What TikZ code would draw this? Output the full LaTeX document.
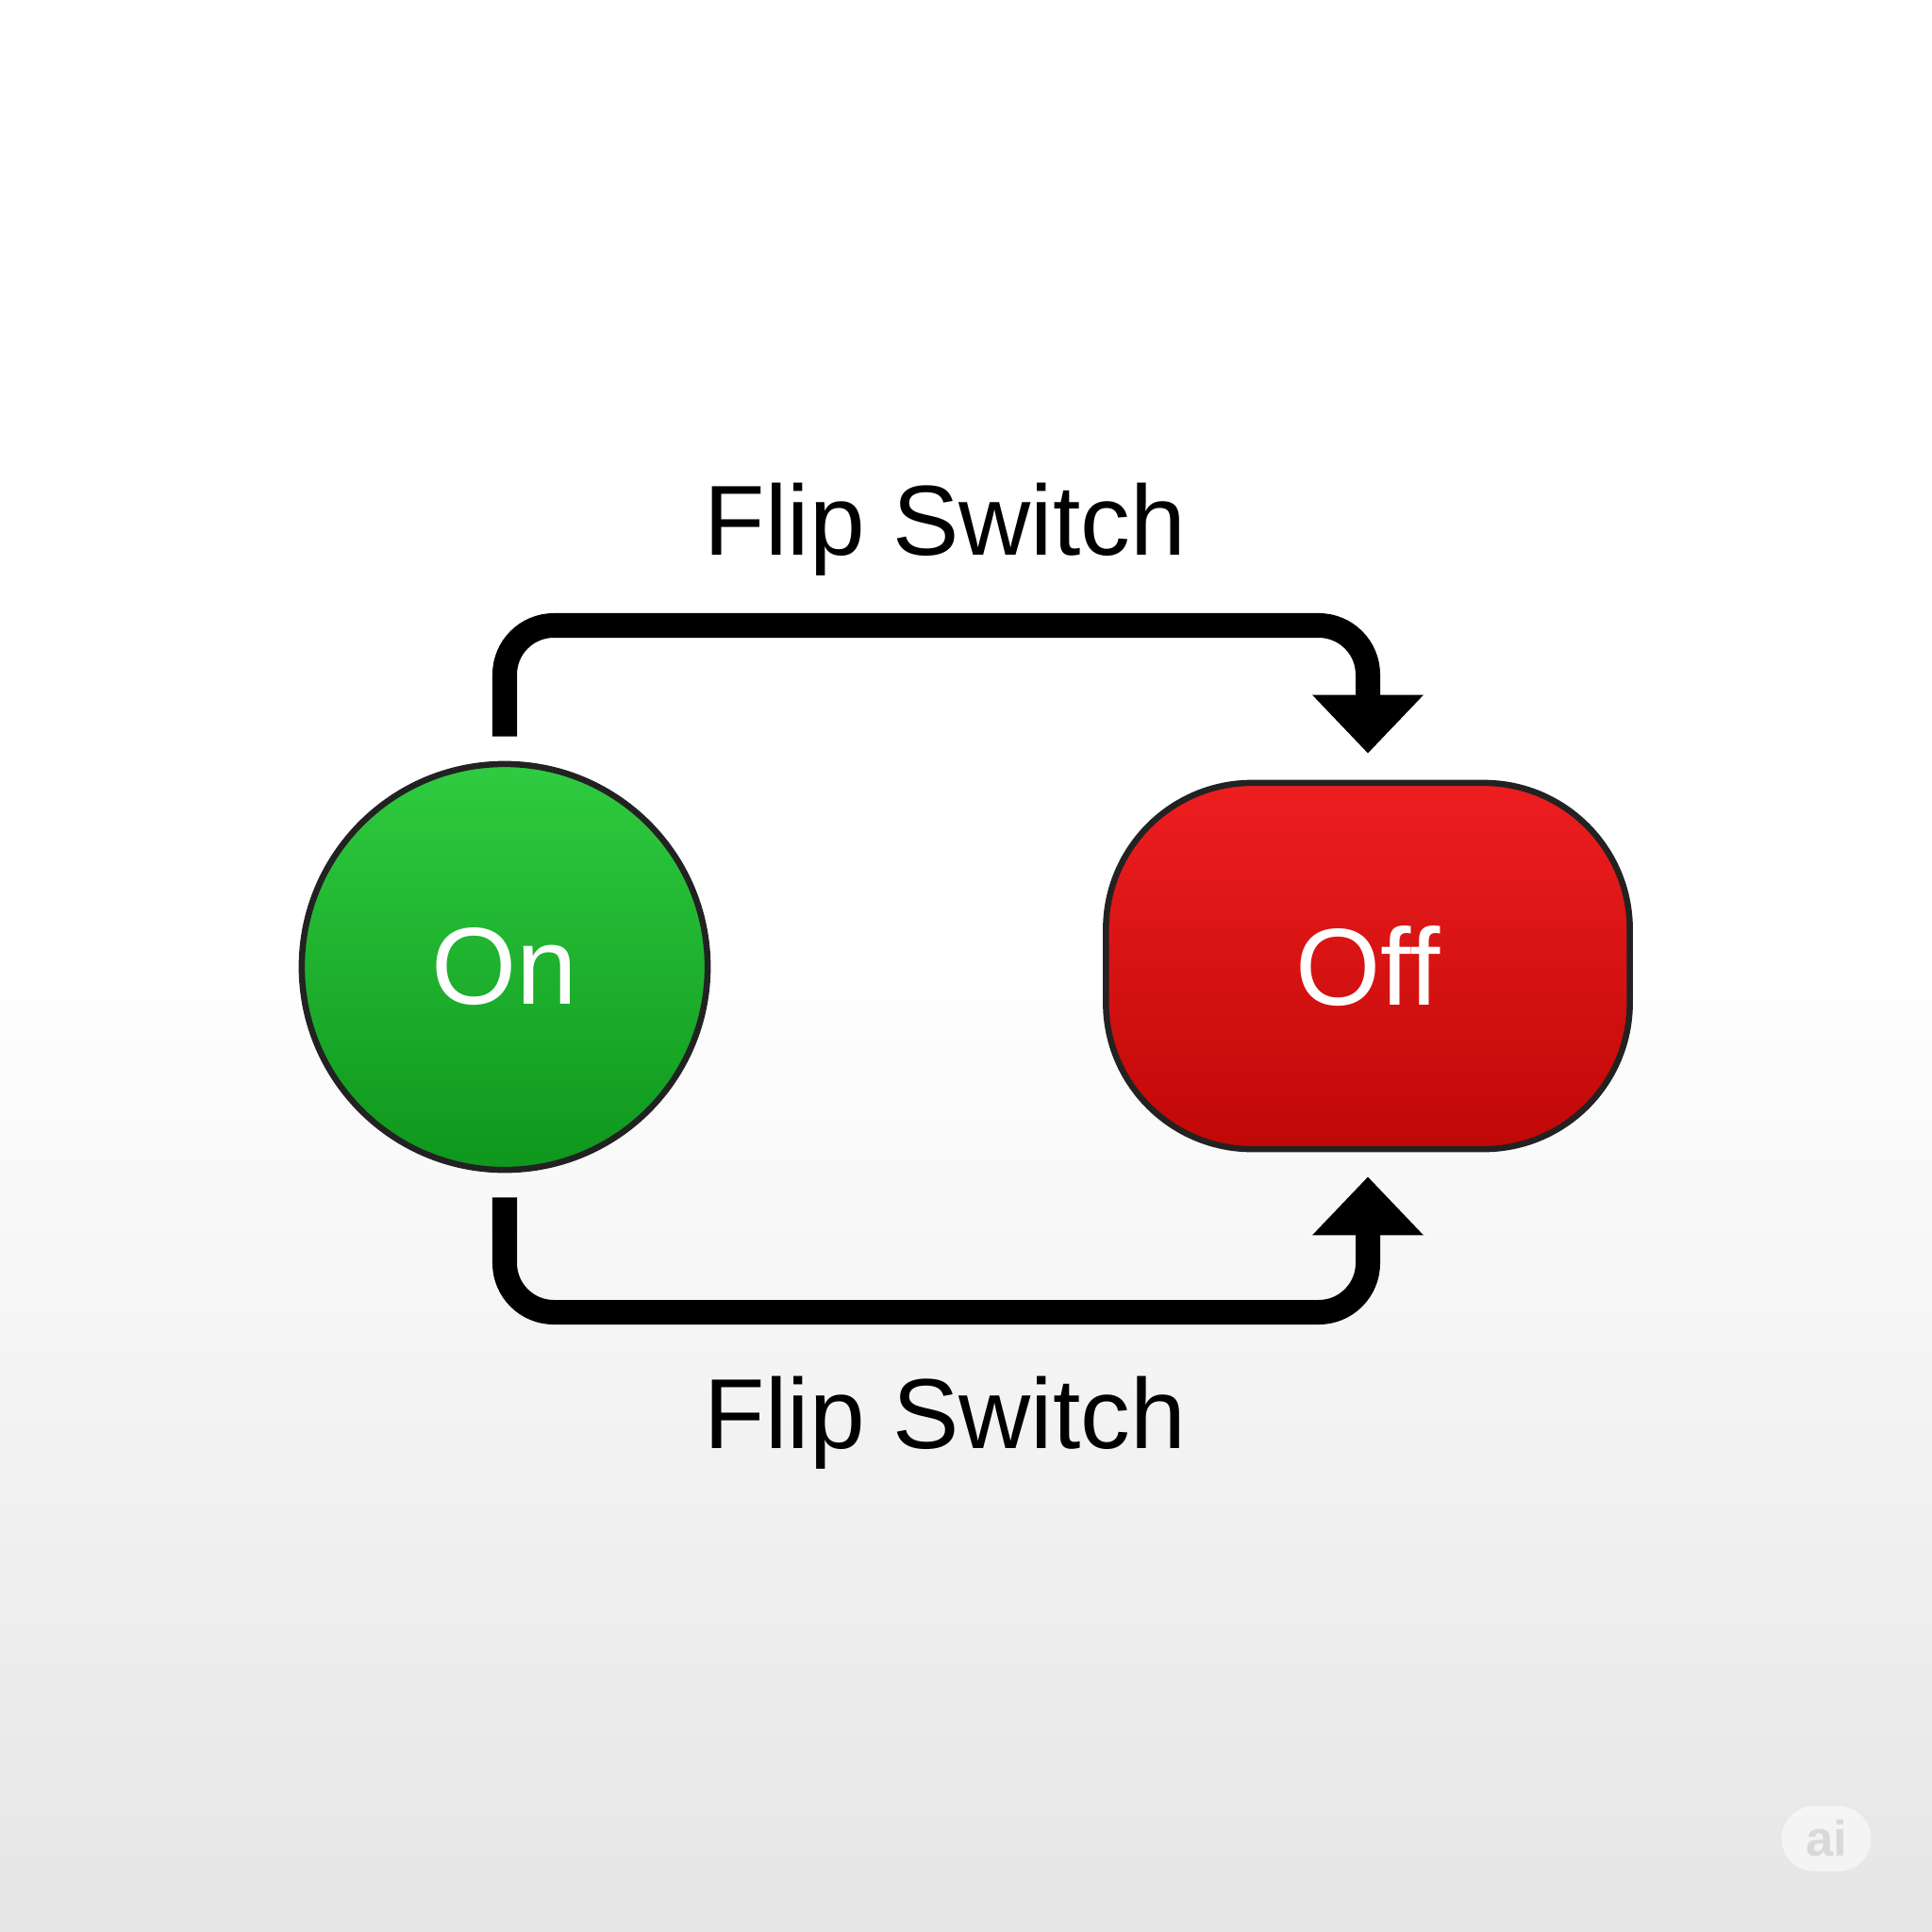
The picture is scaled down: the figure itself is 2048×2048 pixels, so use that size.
\documentclass[tikz,border=0pt]{standalone}
\usepackage{fontspec}
\setmainfont[Ligatures=NoCommon]{Liberation Sans}
\usetikzlibrary{arrows.meta}

\definecolor{onTop}{HTML}{2FCB40}
\definecolor{onBot}{HTML}{0E971C}
\definecolor{offTop}{HTML}{EE1E20}
\definecolor{offBot}{HTML}{BF0806}
\definecolor{rim}{HTML}{222222}

\begin{document}
\begin{tikzpicture}[x=0.01cm,y=-0.01cm,
    state/.style={draw=rim, line width=1.85pt, text=white, font=\fontsize{33}{40}\selectfont},
    flow/.style={line width=7.4pt, rounded corners=0.52cm, -{Triangle[length=0.62cm,width=1.14cm]}},
    lbl/.style={font=\fontsize{30}{36}\selectfont, anchor=base}]
    \useasboundingbox (0,0) rectangle (2048,2048);
    % background
    \fill[white] (0,0) rectangle (2048,1000);
    \shade[top color=white, bottom color=black!10] (0,1000) rectangle (2048,2048);

    \coordinate (topline) at (990,663);
    \coordinate (botline) at (990,1391);

    % states
    \node[state, circle, minimum size=4.3cm, top color=onTop, bottom color=onBot] (on) at (535,1025) {On};
    \node[state, rectangle, rounded corners=1.55cm, minimum width=5.55cm, minimum height=3.88cm,
          top color=offTop, bottom color=offBot] (off) at (1450,1024) {Off};

    % transitions
    \draw[flow, shorten <=0.26cm, shorten >=0.28cm] (on.north) |- (topline) -| (off.north);
    \draw[flow, shorten <=0.26cm, shorten >=0.26cm] (on.south) |- (botline) -| (off.south);

    \node[lbl] (flipTop) at (1002,588) {Flip Switch};
    \node[lbl] (flipBot) at (1002,1535) {Flip Switch};

    % watermark
    \node[fill=white, fill opacity=0.55, text opacity=1, text=black!15, rounded corners=0.345cm,
          minimum width=0.95cm, minimum height=0.69cm, inner sep=0pt,
          font=\fontsize{15}{18}\selectfont\bfseries] (mark) at (1936,1949) {ai};
\end{tikzpicture}
\end{document}
